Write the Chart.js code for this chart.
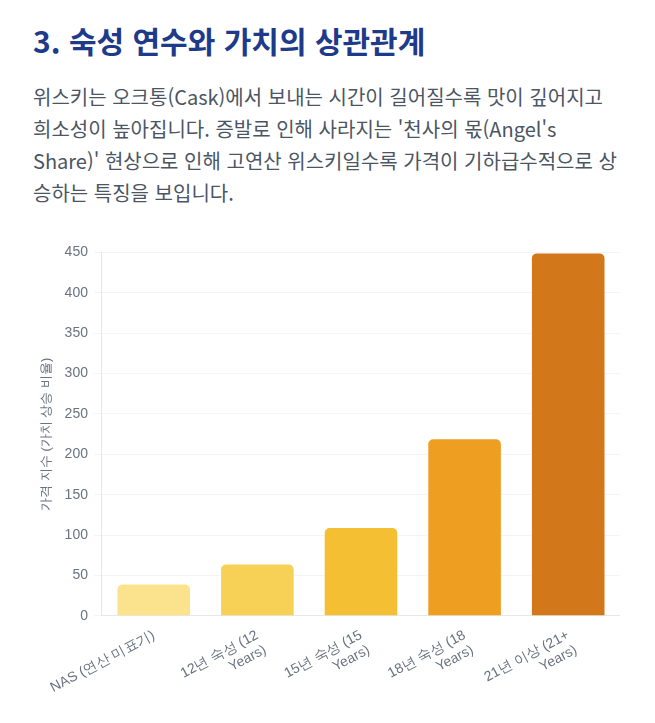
<!DOCTYPE html>
<html lang="ko">
<head>
<meta charset="utf-8">
<script src="https://cdn.jsdelivr.net/npm/chart.js@4.4.0/dist/chart.umd.min.js"></script>
<style>
  body { margin: 0; background: #fff; font-family: "Noto Sans CJK KR", "Noto Sans", sans-serif; }
  .wrap { padding: 17px 33px 0 33px; }
  h2 { margin: 0; font-size: 30px; font-weight: 700; color: #1e3a8a; line-height: 46px; }
  p { margin: 18px 0 0 0; font-size: 20px; line-height: 32px; color: #4b5563; }
  .chart-box { position: relative; width: 585px; height: 476px; margin: 29px 0 0 2px; }
</style>
</head>
<body>
<div class="wrap">
  <h2>3. 숙성 연수와 가치의 상관관계</h2>
  <p>위스키는 오크통(Cask)에서 보내는 시간이 길어질수록 맛이 깊어지고 희소성이 높아집니다. 증발로 인해 사라지는 '천사의 몫(Angel's Share)' 현상으로 인해 고연산 위스키일수록 가격이 기하급수적으로 상승하는 특징을 보입니다.</p>
  <div class="chart-box"><canvas id="ageChart"></canvas></div>
</div>
<script>
// categories and values
const ageLabels = [
    'NAS (연산 미표기)',
    ['12년 숙성 (12', 'Years)'],
    ['15년 숙성 (15', 'Years)'],
    ['18년 숙성 (18', 'Years)'],
    ['21년 이상 (21+', 'Years)']
];
const priceIndex = [40, 65, 110, 220, 450];
const barColors = ['#FBE38E', '#F6D155', '#F4BF33', '#EE9F22', '#D2771A'];

window.onload = function() {
    var ctx = document.getElementById('ageChart').getContext('2d');
    new Chart(ctx, {
        type: 'bar',
        data: {
            labels: ageLabels,
            datasets: [{
                label: '가격 지수',
                data: priceIndex,
                backgroundColor: barColors,
                borderColor: 'rgba(255,255,255,0.6)',
                borderWidth: 1,
                borderRadius: 6,
                barPercentage: 0.72,
                categoryPercentage: 1
            }]
        },
        options: {
            responsive: true,
            maintainAspectRatio: false,
            animation: false,
            plugins: {
                legend: { display: false },
                tooltip: { enabled: false }
            },
            scales: {
                y: {
                    beginAtZero: true,
                    max: 450,
                    ticks: { stepSize: 50, color: '#6b7280', font: { size: 14 }, padding: 6 },
                    grid: { color: '#f1f5f9' },
                    border: { color: '#e5e7eb' },
                    title: {
                        display: true,
                        text: '가격 지수 (가치 상승 비율)',
                        color: '#6b7280',
                        font: { size: 13 }
                    }
                },
                x: {
                    ticks: { color: '#6b7280', font: { size: 14 }, maxRotation: 28, minRotation: 28 },
                    grid: { display: false },
                    border: { color: '#e5e7eb' }
                }
            }
        }
    });
};
</script>
</body>
</html>
